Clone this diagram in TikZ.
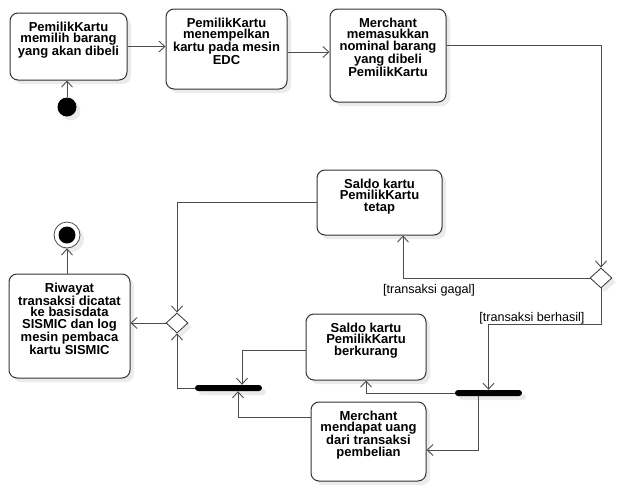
\documentclass[tikz,border=0pt]{standalone}
\usepackage{fontspec}
\setmainfont{Liberation Sans}
\usetikzlibrary{arrows.meta,shapes.geometric,shadows,calc}
\begin{document}
\begin{tikzpicture}[x=1pt,y=-1pt,
  shd/.style={drop shadow={shadow xshift=4pt,shadow yshift=-4pt,fill=black!8,opacity=1}},
  act/.style={draw=black!80,line width=1pt,rounded corners=8pt,fill=white,shd,inner sep=0pt,
    label={[anchor=north,yshift=-9pt,align=center,inner sep=0pt,
      font=\fontsize{13}{11.6}\selectfont\bfseries]north:#1}},
  conn/.style={draw=black!70,line width=0.9pt,-{Straight Barb[length=6pt,width=11pt]}},
  bar/.style={fill=black,rounded corners=3pt,minimum width=67pt,minimum height=6pt,inner sep=0pt,shd},
  dec/.style={diamond,draw=black!80,line width=0.8pt,fill=white,minimum width=22pt,minimum height=20pt,inner sep=0pt,shd},
  lbl/.style={font=\fontsize{12.6}{13}\selectfont,inner sep=0pt}]
\useasboundingbox (0,0) rectangle (622,491);

\node[act={PemilikKartu\\memilih barang\\yang akan dibeli},minimum width=117pt,minimum height=67pt] (A) at (68.5,46.5) {};
\node[act={PemilikKartu\\menempelkan\\kartu pada mesin\\EDC},minimum width=121pt,minimum height=80pt] (B) at (226.5,49) {};
\node[act={Merchant\\memasukkan\\nominal barang\\yang dibeli\\PemilikKartu},minimum width=116pt,minimum height=93pt] (C) at (388,55.5) {};
\node[circle,fill=black,minimum size=19pt,inner sep=0pt,shd] (S) at (67,107) {};

\node[dec] (D1) at (601,278) {};
\node[act={Saldo kartu\\PemilikKartu\\tetap},minimum width=125pt,minimum height=65pt] (T) at (379.5,202.5) {};
\node[bar] (B1) at (488.5,393) {};
\node[act={Saldo kartu\\PemilikKartu\\berkurang},minimum width=120pt,minimum height=66pt] (K) at (366,347) {};
\node[act={Merchant\\mendapat uang\\dari transaksi\\pembelian},minimum width=115pt,minimum height=79pt] (M) at (368.5,441.5) {};
\node[bar] (B2) at (228.5,388) {};
\node[dec] (D2) at (177,323) {};
\node[act={Riwayat\\transaksi dicatat\\ke basisdata\\SISMIC dan log\\mesin pembaca\\kartu SISMIC},minimum width=121pt,minimum height=104pt] (R) at (69.5,326) {};
\node[circle,draw=black!70,line width=0.8pt,fill=white,minimum size=26pt,inner sep=0pt,shd,
  path picture={\fill[black] (path picture bounding box.center) circle (8.5pt);}] (E) at (67,235) {};

\node[lbl] (Lg) at (429,290) {[transaksi gagal]};
\node[lbl] (Lb) at (532,318) {[transaksi berhasil]};

\draw[conn] (S.north) -- (S.north |- A.south);
\draw[conn] (A.east) -- (A.east -| B.west);
\draw[conn] ([yshift=-3pt]B.east) -- ([yshift=-3pt]B.east -| C.west);
\draw[conn] ([yshift=10.5pt]C.east) -| (D1.north);
\draw[conn] (D1.west) -| ([xshift=23.5pt]T.south);
\draw[conn] (D1.south) |- ($(B1.north)+(0,-65)$) -| (B1.north);
\draw[conn] (B1.west) -| (K.south);
\draw[conn] ([xshift=-10.5pt]B1.south) |- ([yshift=-8.5pt]M.east);
\draw[conn] ([yshift=-3pt]K.west) -| ([xshift=13.5pt]B2.north);
\draw[conn] ([yshift=24.5pt]M.west) -| ([xshift=9.5pt]B2.south);
\draw[conn] (B2.west) -| (D2.south);
\draw[conn] (T.west) -| (D2.north);
\draw[conn] (D2.west) -- (D2.west -| R.east);
\draw[conn] (R.north -| E.south) -- (E.south);
\end{tikzpicture}
\end{document}
